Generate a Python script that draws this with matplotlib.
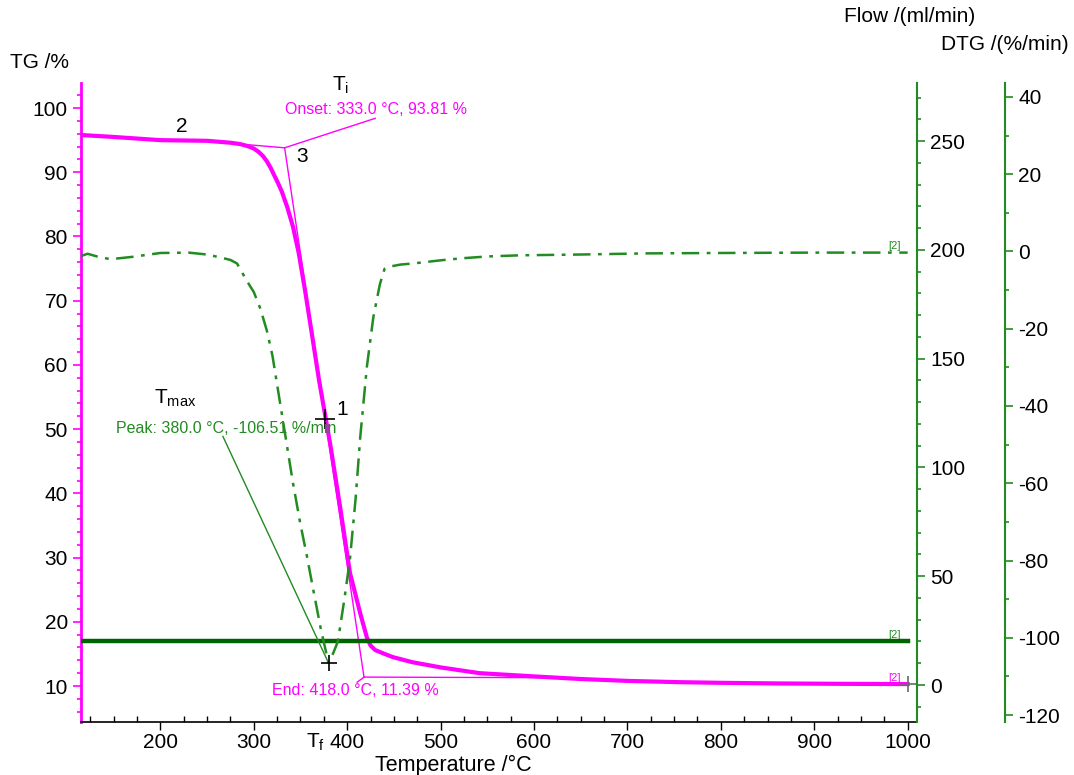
import numpy as np
import matplotlib.pyplot as plt
from matplotlib.ticker import MultipleLocator

plt.rcParams['font.family'] = ['Liberation Sans', 'DejaVu Sans']
plt.rcParams['mathtext.default'] = 'regular'
plt.rcParams['axes.unicode_minus'] = False

# TG curve (%)
tg_T = [115, 150, 200, 250, 275, 285, 293, 300, 305, 310, 314, 318, 322, 326, 330,
        336, 342, 348, 355, 362, 370, 376, 382, 392.5, 403, 414, 421, 425, 430, 440,
        449, 470, 500, 542, 600, 649, 700, 756, 800, 863, 920, 1000]
tg = [95.8, 95.5, 95.0, 94.9, 94.6, 94.4, 94.1, 93.7, 93.2, 92.5, 91.7, 90.7, 89.5,
      88.3, 87.0, 84.5, 81.5, 77.5, 71.5, 65.0, 57.5, 52.5, 47.5, 37.8, 27.6, 21.3,
      17.6, 16.3, 15.6, 15.0, 14.5, 13.7, 12.9, 12.0, 11.5, 11.1, 10.8, 10.6, 10.5,
      10.4, 10.35, 10.3]

# DTG curve (%/min)
dtg_T = [115, 122, 135, 147, 170, 200, 230, 250, 265, 275, 282, 293, 300, 307, 314,
         320, 328, 334, 342, 350, 357, 364, 372, 380, 385, 390, 397, 403, 409, 414,
         421, 428, 435, 440, 446, 457, 471, 500, 521, 550, 585, 649, 721, 800, 900, 1000]
dtg = [-1.2, -0.6, -1.5, -2.0, -1.4, -0.4, -0.3, -0.8, -1.6, -2.2, -3.1, -7.8, -10.5,
       -14.8, -20.5, -27, -39, -48, -60, -70.7, -79, -88, -98, -106.51, -104, -101,
       -90, -79.5, -64, -48, -30, -17, -8.5, -4.5, -3.9, -3.4, -3.1, -2.3, -1.8, -1.3,
       -1.0, -0.8, -0.5, -0.4, -0.3, -0.3]

# Flow (ml/min)
flow_T = [115, 1000]
flow = [20, 20]

onset = (333.0, 93.81)
end = (418.0, 11.39)
peak = (380.0, -106.51)

magenta = '#FF00FF'
green = '#228B22'
dkgreen = '#006400'

fig = plt.figure(figsize=(10.74, 7.75), dpi=100)
ax = fig.add_axes([0.0754, 0.0684, 0.7784, 0.8245])
ax2 = ax.twinx()
ax3 = ax.twinx()
ax3.spines['right'].set_position(('axes', 1.1053))

# curves
ax3.plot(dtg_T, dtg, color=green, lw=1.8, ls=(0, (7, 3, 1.5, 3)))
ax.plot(tg_T, tg, color=magenta, lw=3)
ax2.plot(flow_T, flow, color=dkgreen, lw=3.2)

# onset / end construction lines
ax.plot([293, onset[0]], [94.3, onset[1]], color=magenta, lw=1)
ax.plot([onset[0], end[0]], [onset[1], end[1]], color=magenta, lw=1)
ax.plot([end[0], 614], [end[1], 11.3], color=magenta, lw=1)
ax.plot([onset[0], 430], [onset[1], 98.4], color=magenta, lw=1)
ax.plot([end[0], 410.7], [end[1], 10.6], color=magenta, lw=1)
ax.text(333, 99.8, 'Onset: %.1f °C, %.2f %%' % onset, color=magenta,
        fontsize=11.5, ha='left', va='center')
ax.text(319.5, 9.35, 'End: %.1f °C, %.2f %%' % end, color=magenta,
        fontsize=11.5, ha='left', va='center')

# peak annotation
ax3.plot([peak[0], 267], [peak[1], -47.9], color=green, lw=1)
ax3.text(152, -45.8, 'Peak: %.1f °C, %.2f %%/min' % peak, color=green,
         fontsize=11.5, ha='left', va='center')

# markers
ax.plot([376], [51.6], marker='+', color='black', ms=14, mew=1.2)
ax3.plot([peak[0]], [peak[1]], marker='+', color='black', ms=12, mew=1.2)
ax.plot([1000], [10.3], marker='+', color='dimgray', ms=12, mew=1.2)

# labels on the plot
ax.text(394.6, 53.0, '1', fontsize=15, ha='center', va='center')
ax.text(222.5, 97.2, '2', fontsize=15, ha='center', va='center')
ax.text(351.9, 92.5, '3', fontsize=15, ha='center', va='center')
ax.text(392.5, 103.5, r'T$_{i}$', fontsize=15, ha='center', va='center', clip_on=False)
ax.text(216, 54.8, r'T$_{max}$', fontsize=15, ha='center', va='center')
ax.text(366, 1.2, r'T$_{f}$', fontsize=15, ha='center', va='center', clip_on=False)

ax.text(993, 77.7, '[2]', color=green, fontsize=8, ha='right', va='bottom')
ax.text(993, 17.2, '[2]', color=green, fontsize=8, ha='right', va='bottom')
ax.text(993, 10.5, '[2]', color=magenta, fontsize=8, ha='right', va='bottom')

# axes limits and ticks
ax.set_xlim(115, 1010)
ax.set_ylim(4.4, 103.9)
ax2.set_ylim(-17, 276.7)
ax3.set_ylim(-121.8, 43.6)

ax.xaxis.set_major_locator(MultipleLocator(100))
ax.xaxis.set_minor_locator(MultipleLocator(25))
ax.yaxis.set_major_locator(MultipleLocator(10))
ax.yaxis.set_minor_locator(MultipleLocator(2))
ax2.yaxis.set_major_locator(MultipleLocator(50))
ax2.yaxis.set_minor_locator(MultipleLocator(10))
ax3.yaxis.set_major_locator(MultipleLocator(20))
ax3.yaxis.set_minor_locator(MultipleLocator(10))

for a in (ax, ax2, ax3):
    a.spines['top'].set_visible(False)
ax.spines['right'].set_visible(False)
ax2.spines['left'].set_visible(False)
ax2.spines['bottom'].set_visible(False)
ax3.spines['left'].set_visible(False)
ax3.spines['bottom'].set_visible(False)

ax.spines['left'].set_color(magenta)
ax.spines['left'].set_linewidth(2)
ax.spines['bottom'].set_linewidth(1.2)
ax2.spines['right'].set_color(green)
ax2.spines['right'].set_linewidth(1.5)
ax3.spines['right'].set_color(green)
ax3.spines['right'].set_linewidth(1.5)

ax.tick_params(axis='y', which='both', colors=magenta, labelcolor='black', labelsize=15)
ax.tick_params(axis='y', which='major', length=6, width=1.2)
ax.tick_params(axis='y', which='minor', length=3, width=1.2)
ax.tick_params(axis='x', which='major', length=6, width=1, labelsize=15, pad=2)
ax.tick_params(axis='x', which='minor', direction='in', length=4, width=1)
for a in (ax2, ax3):
    a.tick_params(axis='y', which='both', colors=green, labelcolor='black', labelsize=15)
    a.tick_params(axis='y', which='major', length=6, width=1.2)
    a.tick_params(axis='y', which='minor', length=3, width=1.2)

# axis titles
fig.text(40 / 1074, 1 - 62 / 775, 'TG /%', fontsize=15, ha='center', va='center')
fig.text(910 / 1074, 1 - 17 / 775, 'Flow /(ml/min)', fontsize=15, ha='center', va='center')
fig.text(1005 / 1074, 1 - 45 / 775, 'DTG /(%/min)', fontsize=15, ha='center', va='center')
ax.set_xlabel('Temperature /°C', fontsize=15.5)
ax.xaxis.set_label_coords(0.445, -0.051)

fig.savefig('out.png', dpi=100)
